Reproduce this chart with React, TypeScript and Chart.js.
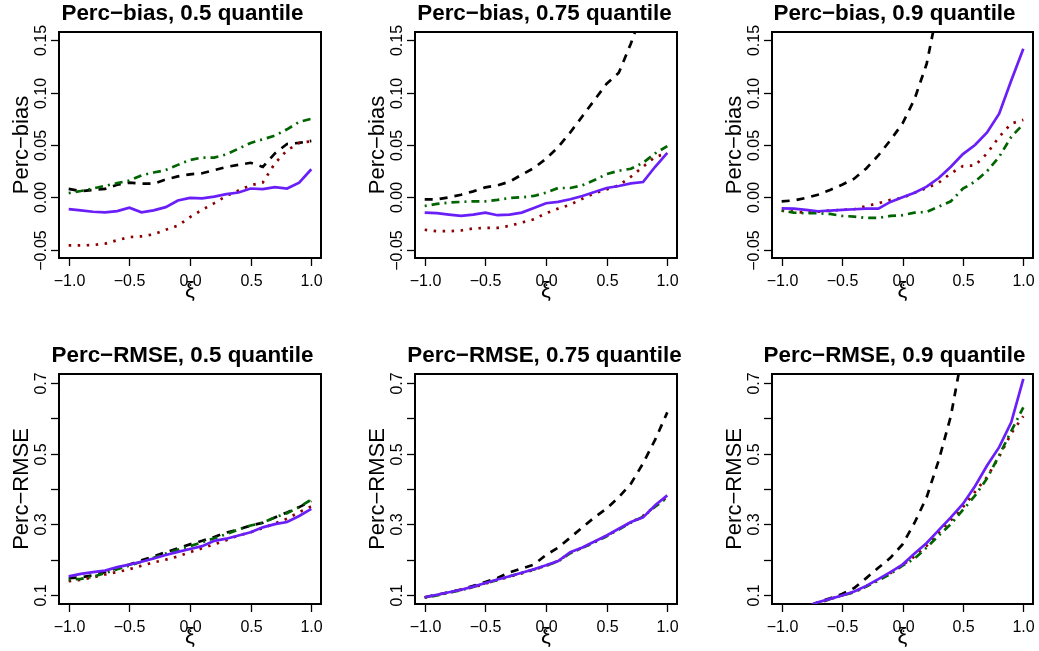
import React, { useEffect, useRef } from "react";
import { Chart, registerables } from "chart.js";

Chart.register(...registerables);

// ---------- data ----------
const XI = [-1.0, -0.9, -0.8, -0.7, -0.6, -0.5, -0.4, -0.3, -0.2, -0.1, 0.0, 0.1, 0.2, 0.3, 0.4, 0.5, 0.6, 0.7, 0.8, 0.9, 1.0];

// Perc-bias, 0.5 quantile
const bias50Dashed = [0.008, 0.006, 0.007, 0.008, 0.012, 0.014, 0.013, 0.013, 0.017, 0.020, 0.022, 0.023, 0.026, 0.029, 0.031, 0.033, 0.029, 0.042, 0.051, 0.052, 0.054];
const bias50Dotted = [-0.046, -0.046, -0.0456, -0.0443, -0.041, -0.038, -0.0373, -0.0354, -0.031, -0.0271, -0.019, -0.0119, -0.0056, 0.0013, 0.0065, 0.0116, 0.0141, 0.0325, 0.045, 0.052, 0.0535];
const bias50DotDash = [0.004, 0.006, 0.0084, 0.011, 0.0135, 0.016, 0.021, 0.0237, 0.026, 0.031, 0.0357, 0.038, 0.038, 0.041, 0.0465, 0.052, 0.0554, 0.059, 0.065, 0.072, 0.075];
const bias50Solid = [-0.0113, -0.0125, -0.0138, -0.0144, -0.0132, -0.010, -0.0144, -0.0125, -0.0094, -0.003, -0.0005, -0.001, 0.0006, 0.003, 0.0046, 0.0084, 0.0078, 0.0097, 0.0084, 0.014, 0.0268];

// Perc-bias, 0.75 quantile
const bias75Dashed = [-0.002, -0.002, 0.0, 0.0025, 0.0057, 0.0095, 0.0114, 0.015, 0.0216, 0.028, 0.0368, 0.048, 0.062, 0.0775, 0.093, 0.1086, 0.119, 0.147, 0.18, 0.22, 0.27];
const bias75Dotted = [-0.031, -0.0324, -0.0324, -0.0317, -0.0298, -0.0292, -0.0292, -0.0273, -0.0241, -0.021, -0.0152, -0.0108, -0.007, -0.0013, 0.0038, 0.0076, 0.0114, 0.0197, 0.0292, 0.0387, 0.042];
const bias75DotDash = [-0.0083, -0.0063, -0.005, -0.0044, -0.0038, -0.0038, -0.0025, -0.0006, 0.0, 0.0013, 0.0044, 0.0089, 0.0089, 0.0114, 0.0165, 0.0222, 0.0254, 0.0273, 0.033, 0.042, 0.0489];
const bias75Solid = [-0.0146, -0.0152, -0.0165, -0.0178, -0.0165, -0.0146, -0.0171, -0.0165, -0.0146, -0.0102, -0.0057, -0.0044, -0.0019, 0.0013, 0.0051, 0.0089, 0.0108, 0.0133, 0.0146, 0.0292, 0.0425];

// Perc-bias, 0.9 quantile
const bias90Dashed = [-0.0038, -0.003, -0.0006, 0.0025, 0.007, 0.012, 0.0178, 0.0276, 0.04, 0.0546, 0.0705, 0.094, 0.1276, 0.185, 0.24, 0.30, 0.37, 0.45, 0.54, 0.64, 0.75];
const bias90Dotted = [-0.0127, -0.0138, -0.0146, -0.0138, -0.0127, -0.012, -0.0114, -0.0083, -0.0057, -0.0025, -0.0006, 0.0044, 0.0089, 0.014, 0.0229, 0.0298, 0.0305, 0.042, 0.0578, 0.0705, 0.074];
const bias90DotDash = [-0.0127, -0.0146, -0.0152, -0.0152, -0.0159, -0.0178, -0.0184, -0.0197, -0.0197, -0.0178, -0.0171, -0.0146, -0.014, -0.0089, -0.0038, 0.0083, 0.015, 0.025, 0.0387, 0.0578, 0.070];
const bias90Solid = [-0.0105, -0.0108, -0.012, -0.0133, -0.0127, -0.012, -0.0114, -0.0108, -0.0108, -0.0044, 0.0, 0.0044, 0.0102, 0.0184, 0.0292, 0.0413, 0.05, 0.062, 0.08, 0.1117, 0.142];

// Perc-RMSE, 0.5 quantile
const rmse50Dashed = [0.149, 0.151, 0.157, 0.166, 0.178, 0.187, 0.199, 0.21, 0.222, 0.233, 0.244, 0.254, 0.265, 0.277, 0.286, 0.297, 0.305, 0.32, 0.334, 0.349, 0.366];
const rmse50Dotted = [0.14, 0.144, 0.151, 0.159, 0.166, 0.174, 0.184, 0.193, 0.201, 0.21, 0.222, 0.233, 0.244, 0.256, 0.269, 0.278, 0.29, 0.303, 0.316, 0.335, 0.351];
const rmse50DotDash = [0.144, 0.147, 0.153, 0.163, 0.174, 0.184, 0.195, 0.206, 0.218, 0.229, 0.239, 0.25, 0.261, 0.273, 0.286, 0.297, 0.305, 0.32, 0.332, 0.349, 0.37];
const rmse50Solid = [0.154, 0.161, 0.166, 0.17, 0.18, 0.187, 0.195, 0.204, 0.214, 0.223, 0.231, 0.239, 0.254, 0.26, 0.269, 0.278, 0.292, 0.301, 0.307, 0.324, 0.344];

// Perc-RMSE, 0.75 quantile
const rmse75Dashed = [0.095, 0.102, 0.109, 0.117, 0.127, 0.138, 0.149, 0.165, 0.176, 0.187, 0.214, 0.235, 0.263, 0.292, 0.32, 0.345, 0.377, 0.415, 0.472, 0.539, 0.616];
const rmse75Dotted = [0.094, 0.101, 0.108, 0.116, 0.123, 0.133, 0.144, 0.153, 0.162, 0.172, 0.184, 0.197, 0.22, 0.234, 0.251, 0.268, 0.287, 0.306, 0.324, 0.352, 0.378];
const rmse75DotDash = [0.094, 0.1, 0.108, 0.115, 0.124, 0.134, 0.144, 0.154, 0.164, 0.173, 0.184, 0.196, 0.219, 0.234, 0.25, 0.267, 0.286, 0.305, 0.322, 0.35, 0.376];
const rmse75Solid = [0.095, 0.102, 0.109, 0.116, 0.125, 0.135, 0.145, 0.154, 0.164, 0.174, 0.185, 0.197, 0.222, 0.235, 0.252, 0.269, 0.288, 0.307, 0.32, 0.354, 0.382];

// Perc-RMSE, 0.9 quantile
const rmse90Dashed = [0.05, 0.058, 0.068, 0.081, 0.092, 0.104, 0.121, 0.149, 0.178, 0.206, 0.244, 0.305, 0.377, 0.481, 0.605, 0.79, 1.0, 1.25, 1.5, 1.8, 2.1];
const rmse90Dotted = [0.04, 0.052, 0.066, 0.078, 0.09, 0.1, 0.11, 0.126, 0.144, 0.163, 0.186, 0.21, 0.24, 0.277, 0.312, 0.349, 0.392, 0.434, 0.491, 0.557, 0.605];
const rmse90DotDash = [0.04, 0.052, 0.066, 0.077, 0.09, 0.1, 0.109, 0.125, 0.142, 0.161, 0.184, 0.204, 0.235, 0.269, 0.301, 0.341, 0.381, 0.43, 0.495, 0.563, 0.63];
const rmse90Solid = [0.04, 0.052, 0.066, 0.081, 0.0905, 0.1, 0.111, 0.127, 0.146, 0.166, 0.187, 0.218, 0.248, 0.284, 0.32, 0.358, 0.408, 0.466, 0.518, 0.588, 0.71];

// ticks & labels
const X_TICKS = [-1, -0.5, 0, 0.5, 1];
const X_TICK_LABELS = ["\u22121.0", "\u22120.5", "0.0", "0.5", "1.0"];
const BIAS_TICKS = [-0.05, 0, 0.05, 0.1, 0.15];
const BIAS_TICK_LABELS = ["\u22120.05", "0.00", "0.05", "0.10", "0.15"];
const RMSE_TICKS = [0.1, 0.2, 0.3, 0.4, 0.5, 0.6, 0.7];
const RMSE_TICK_LABELS = ["0.1", "", "0.3", "", "0.5", "", "0.7"];
const TITLES = [
  "Perc\u2212bias, 0.5 quantile", "Perc\u2212bias, 0.75 quantile", "Perc\u2212bias, 0.9 quantile",
  "Perc\u2212RMSE, 0.5 quantile", "Perc\u2212RMSE, 0.75 quantile", "Perc\u2212RMSE, 0.9 quantile",
];
const Y_LABELS = ["Perc\u2212bias", "Perc\u2212RMSE"];
const X_LABEL = "\u03BE";

// ---------- layout / style ----------
const FONT = '"Liberation Sans", Arial, Helvetica, sans-serif';
const COL_X = [0, 346, 692];
const COL_W = [346, 346, 347];
const ROW_Y = [0, 325];
const ROW_H = [325, 326];
const BOX_L = [59, 415, 772];
const BOX_R = [321, 677, 1033];
const BOX_T = [32, 374];
const BOX_B = [258, 604];
const TITLE_SHIFT = [-7.5, -1.5, -8];
const X_RANGE = [-1.08, 1.08];
const Y_RANGES = [[-0.058, 0.158], [0.076, 0.724]];

const COL_SOLID = "#6A1FF8";
const COL_DASHED = "#000000";
const COL_DOTTED = "#8B0000";
const COL_DOTDASH = "#006400";

const PANEL_SERIES = [
  [bias50Solid, bias50DotDash, bias50Dotted, bias50Dashed],
  [bias75Solid, bias75DotDash, bias75Dotted, bias75Dashed],
  [bias90Solid, bias90DotDash, bias90Dotted, bias90Dashed],
  [rmse50Solid, rmse50DotDash, rmse50Dotted, rmse50Dashed],
  [rmse75Solid, rmse75DotDash, rmse75Dotted, rmse75Dashed],
  [rmse90Solid, rmse90DotDash, rmse90Dotted, rmse90Dashed],
];

const decorPlugin = {
  id: "rDecor",
  beforeDatasetsDraw(chart: any) {
    const { ctx, chartArea } = chart;
    const { left, top, right, bottom } = chartArea;
    ctx.save();
    ctx.strokeStyle = "#000";
    ctx.lineWidth = 2;
    ctx.strokeRect(left, top, right - left, bottom - top);
    ctx.restore();
  },
  afterDraw(chart: any) {
    const { ctx, chartArea, scales } = chart;
    const { left, top, right, bottom } = chartArea;
    const opts = chart.options.plugins.rDecor;
    const row = opts.row;
    const xs = scales.x;
    const ys = scales.y;
    ctx.save();
    ctx.strokeStyle = "#000";
    ctx.fillStyle = "#000";
    ctx.lineWidth = 1.3;
    // x ticks
    ctx.font = `16px ${FONT}`;
    ctx.textAlign = "center";
    ctx.textBaseline = "alphabetic";
    X_TICKS.forEach((v, i) => {
      const px = Math.round(xs.getPixelForValue(v)) + 0.5;
      ctx.beginPath();
      ctx.moveTo(px, bottom + 1);
      ctx.lineTo(px, bottom + 8);
      ctx.stroke();
      ctx.fillText(X_TICK_LABELS[i], px, bottom + 27.5);
    });
    // y ticks
    const yt = row === 0 ? BIAS_TICKS : RMSE_TICKS;
    const yl = row === 0 ? BIAS_TICK_LABELS : RMSE_TICK_LABELS;
    yt.forEach((v, i) => {
      const py = Math.round(ys.getPixelForValue(v)) + 0.5;
      ctx.beginPath();
      ctx.moveTo(left - 1, py);
      ctx.lineTo(left - 8, py);
      ctx.stroke();
      if (yl[i]) {
        ctx.save();
        ctx.translate(left - 13, py);
        ctx.rotate(-Math.PI / 2);
        ctx.textAlign = "center";
        ctx.textBaseline = "alphabetic";
        ctx.fillText(yl[i], 0, 0);
        ctx.restore();
      }
    });
    // title
    ctx.font = `bold 22.4px ${FONT}`;
    ctx.textAlign = "center";
    ctx.fillText(opts.title, (left + right) / 2 + TITLE_SHIFT[opts.col], top - 12);
    // x label
    ctx.font = `22px ${FONT}`;
    ctx.fillText(X_LABEL, (left + right) / 2, bottom + 39);
    // y label
    ctx.save();
    ctx.translate(left - 31, (top + bottom) / 2);
    ctx.rotate(-Math.PI / 2);
    ctx.font = `22px ${FONT}`;
    ctx.textAlign = "center";
    ctx.fillText(Y_LABELS[row], 0, 0);
    ctx.restore();
    ctx.restore();
  },
};

function Panel({ idx }: { idx: number }) {
  const ref = useRef<HTMLCanvasElement>(null);
  const row = Math.floor(idx / 3);
  const col = idx % 3;
  const cx = COL_X[col];
  const cy = ROW_Y[row];
  const w = COL_W[col];
  const h = ROW_H[row];

  useEffect(() => {
    const [solid, dotdash, dotted, dashed] = PANEL_SERIES[idx];
    const mk = (arr: number[]) => XI.map((x, i) => ({ x, y: arr[i] }));
    const base = { pointRadius: 0, tension: 0, fill: false, clip: 0, borderCapStyle: "butt" as const };
    const chart = new Chart(ref.current as HTMLCanvasElement, {
      type: "line",
      data: {
        datasets: [
          { ...base, label: "solid", data: mk(solid), borderColor: COL_SOLID, borderWidth: 2.7 },
          { ...base, label: "dotdash", data: mk(dotdash), borderColor: COL_DOTDASH, borderWidth: 2.7, borderDash: [2, 5, 8, 5] },
          { ...base, label: "dotted", data: mk(dotted), borderColor: COL_DOTTED, borderWidth: 2.7, borderDash: [2.5, 6.5] },
          { ...base, label: "dashed", data: mk(dashed), borderColor: COL_DASHED, borderWidth: 2.7, borderDash: [8, 7] },
        ],
      },
      options: {
        animation: false,
        responsive: false,
        devicePixelRatio: 1,
        events: [],
        layout: {
          padding: {
            left: BOX_L[col] - cx,
            right: cx + w - BOX_R[col],
            top: BOX_T[row] - cy,
            bottom: cy + h - BOX_B[row],
          },
        },
        plugins: {
          legend: { display: false },
          tooltip: { enabled: false },
          rDecor: { row, col, title: TITLES[idx] },
        } as any,
        scales: {
          x: { type: "linear", min: X_RANGE[0], max: X_RANGE[1], display: false },
          y: { type: "linear", min: Y_RANGES[row][0], max: Y_RANGES[row][1], display: false },
        },
      },
      plugins: [decorPlugin],
    });
    return () => chart.destroy();
  }, [idx]);

  return (
    <canvas
      ref={ref}
      width={w}
      height={h}
      style={{ position: "absolute", left: cx, top: cy, width: w, height: h }}
    />
  );
}

export default function App() {
  return (
    <div style={{ position: "fixed", left: 0, top: 0, width: 1039, height: 651, background: "#fff", overflow: "hidden" }}>
      {[0, 1, 2, 3, 4, 5].map((i) => (
        <Panel key={i} idx={i} />
      ))}
    </div>
  );
}
